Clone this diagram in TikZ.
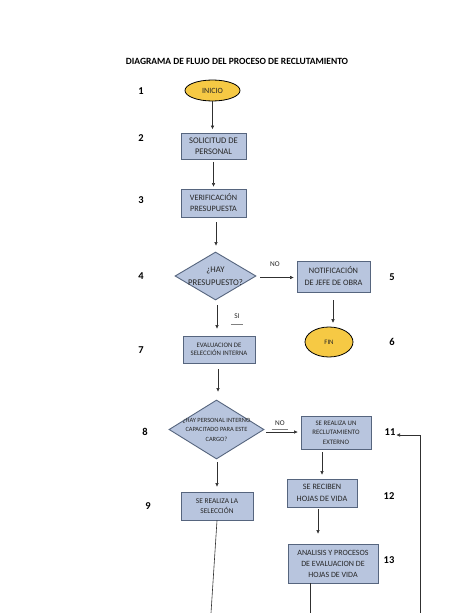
\documentclass[tikz,border=0pt]{standalone}
\usepackage{fontspec}
\setmainfont{Carlito}
\usetikzlibrary{shapes.geometric,arrows.meta}
\definecolor{boxfill}{HTML}{B8C5DE}
\definecolor{boxline}{HTML}{56657E}
\definecolor{ovfill}{HTML}{F6C944}
\definecolor{txt}{HTML}{262626}
\definecolor{conn}{HTML}{303030}
\tikzset{
  procbox/.style={draw=boxline, line width=0.9pt, fill=boxfill, align=center, inner sep=0pt, text=txt},
  ovalbox/.style={ellipse, draw=black, line width=0.8pt, fill=ovfill, inner sep=0pt, text=txt},
  decbox/.style={diamond, draw=boxline, line width=0.9pt, fill=boxfill, inner sep=0pt},
  numlbl/.style={font=\fontsize{10.5}{12}\selectfont\bfseries, text=black},
  conlbl/.style={font=\fontsize{7.3}{8}\selectfont, text=txt},
  arr/.style={draw=conn, line width=0.6pt, -{Triangle[width=3.2pt,length=3.5pt]}},
  ln/.style={draw=conn, line width=0.6pt},
  uline/.style={draw=gray, line width=0.7pt}
}
\begin{document}
\begin{tikzpicture}[x=1pt,y=-1pt]
\useasboundingbox[fill=white] (0,0) rectangle (474,613);

\node (title) at (237,61) {\fontsize{9.5}{11}\selectfont\bfseries DIAGRAMA DE FLUJO DEL PROCESO DE RECLUTAMIENTO};

% nodes
\node[ovalbox, minimum width=55pt, minimum height=21pt, font=\fontsize{8}{9}\selectfont] (inicio) at (212.5,90.5) {INICIO};
\node[procbox, minimum width=65pt, minimum height=26pt, font=\fontsize{8.6}{10.7}\selectfont] (sol) at (213.5,146.5) {SOLICITUD DE\\PERSONAL};
\node[procbox, minimum width=65pt, minimum height=28pt, font=\fontsize{8.2}{11}\selectfont] (ver) at (213.5,203) {VERIFICACIÓN\\PRESUPUESTA};
\node[decbox, minimum width=81pt, minimum height=48pt] (d1) at (215.5,276) {};
\node[align=center, inner sep=0pt, text=txt, font=\fontsize{8.7}{12.5}\selectfont] (d1t) at (d1.center) {¿HAY\\PRESUPUESTO?};
\node[procbox, minimum width=73pt, minimum height=31pt, font=\fontsize{8.3}{12}\selectfont] (notif) at (333.5,276.5) {NOTIFICACIÓN\\DE JEFE DE OBRA};
\node[ovalbox, minimum width=48pt, minimum height=30pt, font=\fontsize{6.8}{8}\selectfont] (fin) at (329,342) {FIN};
\node[procbox, minimum width=72pt, minimum height=27pt, font=\fontsize{6.8}{8.5}\selectfont] (eval) at (219,349.5) {EVALUACION DE\\SELECCIÓN INTERNA};
\node[decbox, minimum width=95pt, minimum height=59pt] (d2) at (216.5,429.5) {};
\node[align=center, inner sep=0pt, text=txt, font=\fontsize{6.4}{9.5}\selectfont] (d2t) at (d2.center) {¿HAY PERSONAL INTERNO\\CAPACITADO PARA ESTE\\CARGO?};
\node[procbox, minimum width=70pt, minimum height=33pt, font=\fontsize{6.8}{9.5}\selectfont] (ext) at (336,432.5) {SE REALIZA UN\\RECLUTAMIENTO\\EXTERNO};
\node[procbox, minimum width=70pt, minimum height=28pt, font=\fontsize{8.2}{12}\selectfont] (rec) at (322,493) {SE RECIBEN\\HOJAS DE VIDA};
\node[procbox, minimum width=90pt, minimum height=39pt, font=\fontsize{8}{11}\selectfont] (ana) at (333,563.5) {ANALISIS Y PROCESOS\\DE EVALUACION DE\\HOJAS DE VIDA};
\node[procbox, minimum width=72pt, minimum height=28pt, font=\fontsize{7.4}{10}\selectfont] (sel) at (217,506) {SE REALIZA LA\\SELECCIÓN};

% numbers
\node[numlbl] (n1) at (141,91) {1};
\node[numlbl] (n2) at (141,138) {2};
\node[numlbl] (n3) at (141,200) {3};
\node[numlbl] (n4) at (141,276) {4};
\node[numlbl] (n5) at (392,277) {5};
\node[numlbl] (n6) at (392,342) {6};
\node[numlbl] (n7) at (141,350) {7};
\node[numlbl] (n8) at (145,432) {8};
\node[numlbl] (n9) at (148,506) {9};
\node[numlbl, inner sep=1pt] (n11) at (390,432) {11};
\node[numlbl] (n12) at (389,496) {12};
\node[numlbl] (n13) at (389,560) {13};

% connector labels
\node[conlbl] (no1) at (275,264) {NO};
\node[conlbl] (si) at (237,316) {SI};
\draw[uline] ([yshift=-2pt]si.south west) -- ([yshift=-2pt]si.south east);
\node[conlbl] (no2) at (280,423) {NO};
\draw[uline] ([yshift=0pt]no2.south west) -- ([yshift=0pt]no2.south east);

% coordinates for free ends
\coordinate (selend) at (211,613);
\coordinate (anaend) at (310,613);
\coordinate (rbot) at (420,613);
\coordinate (rtop) at (420,435);

% connectors
\draw[arr, shorten >=4pt] (inicio.south) -- (inicio.south |- sol.north);
\draw[arr, shorten <=2pt, shorten >=2pt] (sol.south) -- (sol.south |- ver.north);
\draw[arr, shorten <=5pt, shorten >=6pt] ([xshift=2.5pt]ver.south) -- ([xshift=2.5pt]ver.south |- d1.north);
\draw[arr, shorten <=4pt, shorten >=3pt] ([yshift=-1.5pt]d1.east) -- ([yshift=-1.5pt]d1.east -| notif.west);
\draw[arr, shorten <=8pt, shorten >=4pt] ([xshift=-0.5pt]notif.south) -- ([xshift=-0.5pt]notif.south |- fin.north);
\draw[arr, shorten <=5pt, shorten >=7pt] ([xshift=1.5pt]d1.south) -- ([xshift=1.5pt]d1.south |- eval.north);
\draw[arr, shorten <=6pt, shorten >=8pt] ([xshift=-1pt]eval.south) -- ([xshift=-1pt]eval.south |- d2.north);
\draw[arr, shorten <=2pt, shorten >=3pt] ([yshift=-2.5pt]d2.east) -- ([yshift=-2.5pt]d2.east -| ext.west);
\draw[arr, shorten <=3pt, shorten >=4pt] (rec.north |- ext.south) -- (rec.north);
\draw[arr, shorten <=2pt, shorten >=10pt] ([xshift=-4pt]rec.south) -- ([xshift=-4pt]rec.south |- ana.north);
\draw[arr, shorten <=3pt, shorten >=5pt] ([xshift=0.5pt]d2.south) -- ([xshift=0.5pt]d2.south |- sel.north);
\draw[ln] (sel.south) -- (selend);
\draw[ln] (ana.south -| anaend) -- (anaend);
\draw[arr] (rbot) -- (rtop) -- (rtop -| n11.east);
\end{tikzpicture}
\end{document}
